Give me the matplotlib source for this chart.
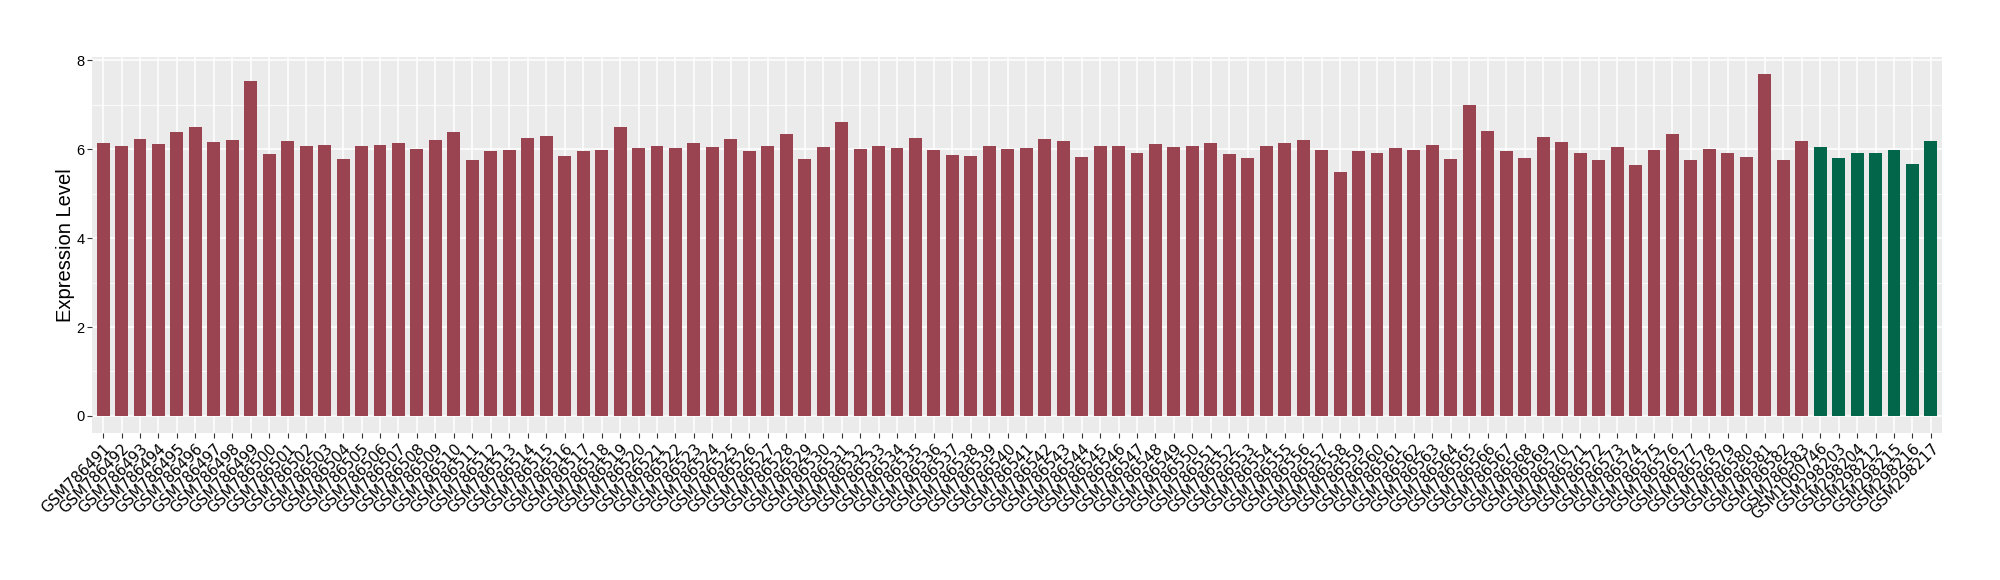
import matplotlib
matplotlib.use("Agg")
import matplotlib.pyplot as plt
from matplotlib.ticker import MultipleLocator

samples_a = ["GSM%d" % n for n in range(786491, 786584)]
samples_b = ["GSM1060746", "GSM298203", "GSM298204", "GSM298212",
             "GSM298215", "GSM298216", "GSM298217"]

values_a = [
    6.13, 6.07, 6.22, 6.11, 6.38, 6.49, 6.16, 6.20, 7.53, 5.90,
    6.18, 6.07, 6.09, 5.78, 6.07, 6.09, 6.13, 6.00, 6.20, 6.38,
    5.75, 5.96, 5.98, 6.25, 6.29, 5.84, 5.96, 5.98, 6.49, 6.02,
    6.07, 6.02, 6.13, 6.04, 6.22, 5.96, 6.07, 6.34, 5.78, 6.04,
    6.61, 6.00, 6.07, 6.02, 6.25, 5.98, 5.87, 5.84, 6.07, 6.00,
    6.02, 6.22, 6.18, 5.82, 6.07, 6.07, 5.91, 6.11, 6.04, 6.07,
    6.13, 5.89, 5.80, 6.07, 6.13, 6.20, 5.98, 5.48, 5.96, 5.91,
    6.02, 5.98, 6.09, 5.78, 6.99, 6.40, 5.96, 5.80, 6.27, 6.16,
    5.91, 5.75, 6.04, 5.64, 5.98, 6.34, 5.75, 6.00, 5.91, 5.82,
    7.69, 5.75, 6.18,
]
values_b = [6.04, 5.80, 5.91, 5.91, 5.98, 5.66, 6.18]

color_a = "#9A4452"
color_b = "#02674A"

labels = samples_a + samples_b
values = values_a + values_b
colors = [color_a] * len(values_a) + [color_b] * len(values_b)
x = list(range(len(labels)))

fig = plt.figure(figsize=(20, 5.8), dpi=100)
ax = fig.add_axes([0.046, 0.2534, 0.925, 0.6483])
ax.set_facecolor("#EBEBEB")
ax.bar(x, values, width=0.7, color=colors, zorder=3)

ymax = max(values)
ax.set_ylim(-0.05 * ymax, ymax * 1.05)
ax.set_xlim(-0.6, len(labels) - 1 + 0.6)

ax.yaxis.set_major_locator(MultipleLocator(2))
ax.yaxis.set_minor_locator(MultipleLocator(1))
ax.grid(which="major", axis="both", color="white", linewidth=1.1, zorder=1)
ax.grid(which="minor", axis="y", color="white", linewidth=0.55, zorder=1)
ax.tick_params(axis="y", which="minor", length=0)

ax.set_xticks(x)
ax.set_xticklabels(labels, rotation=45, ha="right", va="top",
                   rotation_mode="anchor", fontsize=10.8,
                   family="DejaVu Sans")
ax.tick_params(axis="x", length=3.5, width=0.8, color="#333333", pad=2)
ax.tick_params(axis="y", length=3.5, width=0.8, color="#333333", pad=2,
               labelsize=10.5)
for t in ax.get_yticklabels():
    t.set_family("Liberation Sans")

for s in ax.spines.values():
    s.set_visible(False)

ax.set_ylabel("Expression Level", fontsize=14.5, family="Liberation Sans",
              labelpad=1)

fig.savefig("out.png", dpi=100)
